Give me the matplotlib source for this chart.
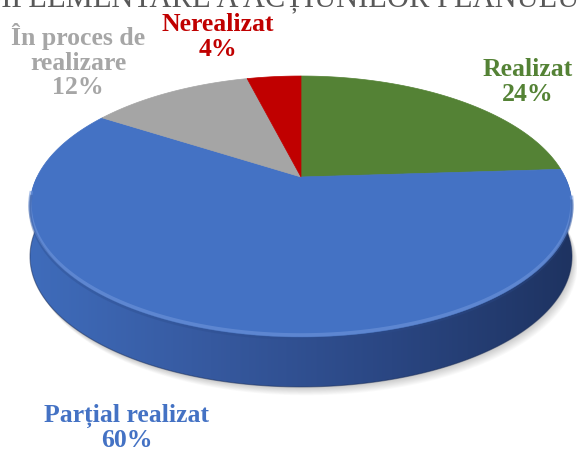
import numpy as np
import matplotlib.pyplot as plt
from matplotlib.colors import LinearSegmentedColormap
from matplotlib.patches import Polygon

# chart data
categories = ["Realizat", "Parțial realizat", "În proces de\nrealizare", "Nerealizat"]
values = [24, 60, 12, 4]
colors = ["#548235", "#4472C4", "#A5A5A5", "#C00000"]
label_colors = ["#548235", "#4472C4", "#A6A6A6", "#C00000"]
title = "IMPLEMENTARE A ACȚIUNILOR PLANULUI"

# layout (pixels)
label_pos = [(528, 82), (127, 428), (78, 61), (218, 37)]
cx, cy = 301, 177
a, b, k = 264, 123.8, 0.226
depth = 50

fig = plt.figure(figsize=(5.77, 4.54), dpi=100)
ax = fig.add_axes([0, 0, 1, 1])
ax.set_xlim(0, 577)
ax.set_ylim(454, 0)
ax.axis("off")


def proj(theta):
    # theta measured clockwise from 12 o'clock, perspective tilt
    u, v = np.sin(theta), np.cos(theta)
    w = 1 + k * v
    return cx + a * u / w, cy - b * v / w


full = np.linspace(0, 2 * np.pi, 400)
ex, ey = proj(full)

# soft shadow
for off in np.linspace(2, 14, 10):
    ax.fill(ex + off * 0.4, ey + depth + off * 0.6, color="#000000",
            alpha=0.018, lw=0, zorder=1)

fracs = np.array(values) / sum(values)
starts = np.concatenate([[0], np.cumsum(fracs)[:-1]]) * 2 * np.pi
ends = np.cumsum(fracs) * 2 * np.pi

# side wall (front part only belongs to the big blue slice), shaded left->right
wall_cmap = LinearSegmentedColormap.from_list(
    "wall", ["#3F6CBB", "#36599F", "#2A4682", "#1E3361"])
th = np.linspace(np.radians(90), np.radians(270), 300)
wx, wy = proj(th)
wall = Polygon(np.column_stack([np.concatenate([wx, wx[::-1]]),
                                np.concatenate([wy, wy[::-1] + depth])]),
               closed=True, fc="none", ec="none")
ax.add_patch(wall)
grad = np.linspace(0, 1, 256).reshape(1, -1)
img = ax.imshow(grad, cmap=wall_cmap, aspect="auto",
                extent=(wx.min(), wx.max(), wy.max() + depth, wy.min()),
                zorder=2, interpolation="bilinear")
img.set_clip_path(wall)
ax.plot(wx, wy + depth, color="#1A2C55", lw=0.8, alpha=0.5, zorder=2)

# top faces
for s, e, col in zip(starts, ends, colors):
    t = np.linspace(s, e, 200)
    px, py = proj(t)
    ax.fill(np.concatenate([[cx], px]), np.concatenate([[cy], py]),
            color=col, ec=col, lw=0.5, zorder=3)

# light rim along the front edge
rim = np.linspace(np.radians(100), np.radians(262), 200)
rx, ry = proj(rim)
ax.plot(rx, ry - 2, color="#6E95DA", lw=2.5, alpha=0.6, zorder=4)
ax.plot(rx, ry + 1.5, color="#2C4C8C", lw=2, alpha=0.35, zorder=4)

# labels
for cat, val, col, (lx, ly) in zip(categories, values, label_colors, label_pos):
    ax.text(lx, ly, f"{cat}\n{val}%", ha="center", va="center",
            color=col, fontsize=18.5, fontweight="bold",
            family=["Liberation Serif", "DejaVu Serif"], linespacing=1.1,
            zorder=5)

# title (clipped at top edge in the original)
ax.text(282, 6, title, ha="center", va="baseline", color="#595959",
        fontsize=22, family=["Liberation Serif", "DejaVu Serif"], zorder=5)

fig.savefig("out.png", dpi=100)
